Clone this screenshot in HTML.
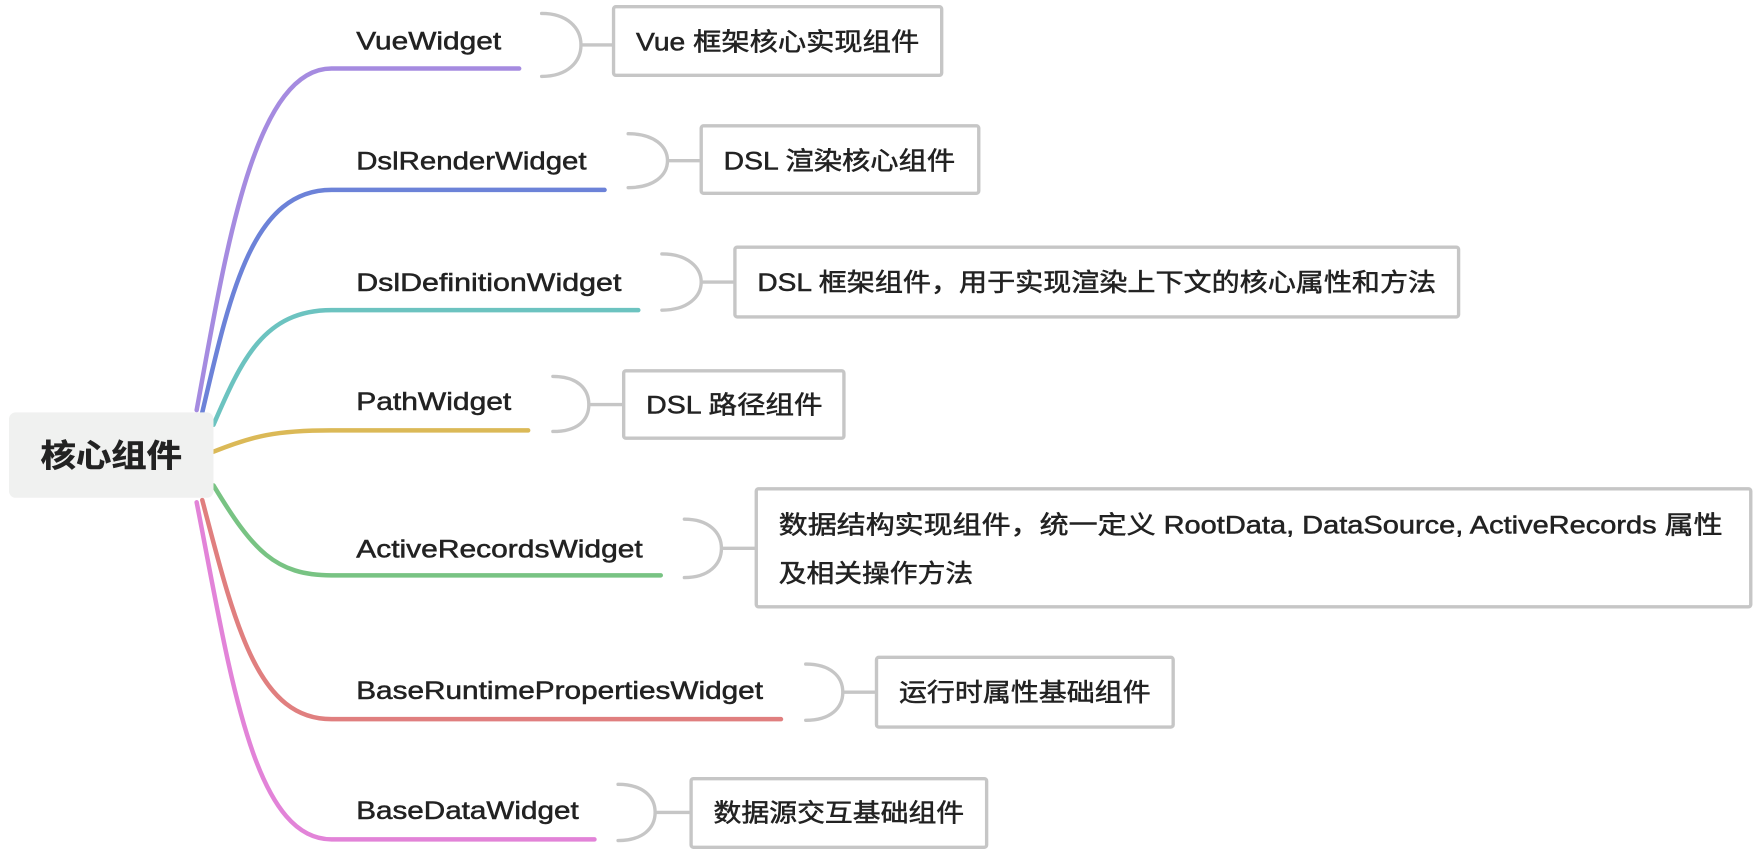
<!DOCTYPE html>
<html><head><meta charset="utf-8"><style>
html,body{margin:0;padding:0;background:#fff;}
svg{display:block}
text{font-family:"Liberation Sans","Noto Sans CJK SC",sans-serif;fill:#222;stroke:#222;stroke-width:0.45;}
</style></head><body>
<svg width="1762" height="854" viewBox="0 0 1568 760" preserveAspectRatio="none" xmlns="http://www.w3.org/2000/svg">
<g fill="none" stroke-width="4" stroke-linecap="round">
<path d="M175,365 C200,230 225,61 295,61 L462,61" stroke="#a58be0"/>
<path d="M180,367 C205,260 225,169 295,169 L538,169" stroke="#6c82d8"/>
<path d="M190,378 C215,320 235,276 295,276 L568,276" stroke="#6cc3c0"/>
<path d="M190,402 C225,388 245,383 295,383 L470,383" stroke="#dbb957"/>
<path d="M190,432 C225,490 245,512 295,512 L588,512" stroke="#78c383"/>
<path d="M180,445 C210,560 230,640 295,640 L695,640" stroke="#e07f7f"/>
<path d="M175,447 C205,600 225,747 295,747 L529,747" stroke="#e283d8"/>
</g>
<rect x="8" y="367" width="182" height="76" rx="6" fill="#f0f1f0"/>
<text x="36" y="415" font-size="28" font-weight="bold" textLength="126" lengthAdjust="spacingAndGlyphs">核心组件</text>
<g font-size="22">
<text x="317" y="44" textLength="129" lengthAdjust="spacingAndGlyphs">VueWidget</text>
<text x="317" y="151" textLength="205" lengthAdjust="spacingAndGlyphs">DslRenderWidget</text>
<text x="317" y="259" textLength="236" lengthAdjust="spacingAndGlyphs">DslDefinitionWidget</text>
<text x="317" y="365" textLength="138" lengthAdjust="spacingAndGlyphs">PathWidget</text>
<text x="317" y="496" textLength="255" lengthAdjust="spacingAndGlyphs">ActiveRecordsWidget</text>
<text x="317" y="622" textLength="362" lengthAdjust="spacingAndGlyphs">BaseRuntimePropertiesWidget</text>
<text x="317" y="729" textLength="198" lengthAdjust="spacingAndGlyphs">BaseDataWidget</text>
</g>
<g fill="none" stroke="#c6c6c6" stroke-width="3" stroke-linecap="round">
<path d="M482,12 C505,12 517,25 517,40 C517,55 505,68 482,68 M517,40 L546,40"/>
<path d="M559,119 C582,119 594,130 594,143 C594,156 582,167 559,167 M594,143 L624,143"/>
<path d="M589,226 C612,226 624,238 624,251 C624,264 612,276 589,276 M624,251 L654,251"/>
<path d="M492,335 C514,335 524,346 524,360 C524,374 514,384 492,384 M524,360 L555,360"/>
<path d="M609,462 C631,462 642,474 642,488 C642,502 631,514 609,514 M642,488 L673,488"/>
<path d="M717,591 C739,591 750,602 750,616 C750,630 739,641 717,641 M750,616 L780,616"/>
<path d="M550,698 C572,698 583,709 583,723 C583,737 572,748 550,748 M583,723 L615,723"/>
</g>
<g fill="#fff" stroke="#c6c6c6" stroke-width="3">
<rect x="546" y="6" width="292" height="61" rx="2"/>
<rect x="624" y="112" width="247" height="60" rx="2"/>
<rect x="654" y="220" width="644" height="62" rx="2"/>
<rect x="555" y="330" width="196" height="60" rx="2"/>
<rect x="673" y="435" width="885" height="105" rx="2"/>
<rect x="780" y="585" width="264" height="62" rx="2"/>
<rect x="615" y="693" width="263" height="61" rx="2"/>
</g>
<g font-size="22">
<text x="566" y="45" textLength="252" lengthAdjust="spacingAndGlyphs">Vue 框架核心实现组件</text>
<text x="644" y="151" textLength="206" lengthAdjust="spacingAndGlyphs">DSL 渲染核心组件</text>
<text x="674" y="259" textLength="604" lengthAdjust="spacingAndGlyphs">DSL 框架组件，用于实现渲染上下文的核心属性和方法</text>
<text x="575" y="368" textLength="157" lengthAdjust="spacingAndGlyphs">DSL 路径组件</text>
<text x="693" y="475" textLength="840" lengthAdjust="spacingAndGlyphs">数据结构实现组件，统一定义 RootData, DataSource, ActiveRecords 属性</text>
<text x="693" y="518" textLength="173" lengthAdjust="spacingAndGlyphs">及相关操作方法</text>
<text x="800" y="624" textLength="224" lengthAdjust="spacingAndGlyphs">运行时属性基础组件</text>
<text x="635" y="731" textLength="223" lengthAdjust="spacingAndGlyphs">数据源交互基础组件</text>
</g>
</svg>
</body></html>
